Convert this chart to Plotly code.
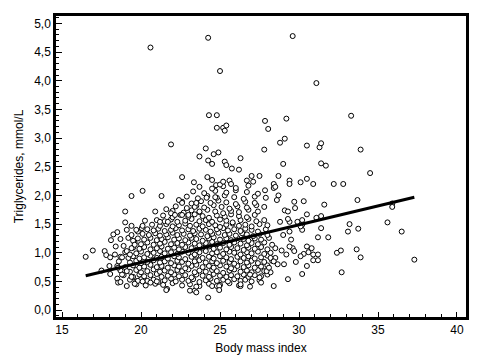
import plotly.graph_objects as go

# ---- data ----
x_ticks = [15, 20, 25, 30, 35, 40]
y_ticks = [0.0, 0.5, 1.0, 1.5, 2.0, 2.5, 3.0, 3.5, 4.0, 4.5, 5.0]
y_tick_labels = ["0,0", "0,5", "1,0", "1,5", "2,0", "2,5", "3,0", "3,5", "4,0", "4,5", "5,0"]

# regression line end points (BMI, TG)
fit_bmi = [16.5, 37.3]
fit_tg = [0.60, 1.97]

# dense core, row by row (BMI, TG)
row_045 = [(19.7,0.45),(20.3,0.43),(20.9,0.46),(21.4,0.44),(22.0,0.47),(22.6,0.43),(23.1,0.45),
           (23.7,0.42),(24.3,0.46),(25.0,0.44),(25.6,0.47),(26.2,0.43)]
row_052 = [(19.3,0.53),(19.7,0.50),(20.0,0.54),(20.4,0.51),(20.8,0.53),(21.1,0.49),(21.5,0.52),
           (21.9,0.55),(22.2,0.50),(22.6,0.53),(23.0,0.51),(23.3,0.54),(23.7,0.49),(24.1,0.52),
           (24.4,0.55),(24.8,0.51),(25.2,0.53),(25.5,0.50),(25.9,0.54),(26.3,0.51),(26.6,0.53),
           (27.0,0.50),(27.5,0.52)]
row_060 = [(18.9,0.61),(19.5,0.58),(19.9,0.62),(20.2,0.59),(20.6,0.61),(21.0,0.63),(21.3,0.58),
           (21.7,0.60),(22.1,0.62),(22.4,0.59),(22.8,0.61),(23.2,0.57),(23.5,0.62),(23.9,0.60),
           (24.3,0.58),(24.6,0.63),(25.0,0.60),(25.4,0.58),(25.7,0.61),(26.1,0.59),(26.5,0.62),
           (26.8,0.58),(27.2,0.61),(27.6,0.59),(28.0,0.62)]
row_068 = [(18.7,0.69),(19.3,0.67),(19.7,0.70),(20.0,0.66),(20.4,0.68),(20.8,0.71),(21.2,0.67),
           (21.5,0.69),(21.9,0.66),(22.3,0.70),(22.6,0.68),(23.0,0.71),(23.4,0.66),(23.7,0.69),
           (24.1,0.67),(24.5,0.70),(24.8,0.68),(25.2,0.65),(25.6,0.69),(25.9,0.71),(26.3,0.67),
           (26.7,0.69),(27.0,0.66),(27.4,0.70),(27.8,0.68),(28.2,0.66)]
row_076 = [(18.5,0.77),(19.0,0.75),(19.5,0.78),(19.9,0.74),(20.2,0.76),(20.6,0.79),(21.0,0.75),
           (21.3,0.77),(21.7,0.74),(22.1,0.78),(22.4,0.76),(22.8,0.73),(23.2,0.77),(23.5,0.79),
           (23.9,0.75),(24.3,0.77),(24.6,0.74),(25.0,0.78),(25.4,0.76),(25.7,0.73),(26.1,0.77),
           (26.5,0.75),(26.8,0.78),(27.2,0.74),(27.6,0.76),(28.0,0.78)]
row_084 = [(18.6,0.85),(19.3,0.83),(19.7,0.86),(20.0,0.82),(20.4,0.84),(20.8,0.87),(21.2,0.83),
           (21.5,0.85),(21.9,0.82),(22.3,0.86),(22.6,0.84),(23.0,0.81),(23.4,0.85),(23.7,0.87),
           (24.1,0.83),(24.5,0.85),(24.8,0.82),(25.2,0.86),(25.6,0.84),(25.9,0.81),(26.3,0.85),
           (26.7,0.83),(27.0,0.86),(27.4,0.82),(27.8,0.84),(28.3,0.86)]
row_092 = [(18.7,0.93),(19.2,0.91),(19.5,0.94),(19.9,0.90),(20.2,0.92),(20.6,0.95),(21.0,0.91),
           (21.3,0.93),(21.7,0.90),(22.1,0.94),(22.4,0.92),(22.8,0.89),(23.2,0.93),(23.5,0.95),
           (23.9,0.91),(24.3,0.93),(24.6,0.90),(25.0,0.94),(25.4,0.92),(25.7,0.89),(26.1,0.93),
           (26.5,0.91),(26.8,0.94),(27.2,0.90),(27.6,0.92),(28.0,0.95),(28.5,0.91)]
row_100 = [(19.0,1.01),(19.7,0.99),(20.0,1.02),(20.4,0.98),(20.8,1.00),(21.2,1.03),(21.5,0.99),
           (21.9,1.01),(22.3,0.98),(22.6,1.02),(23.0,1.00),(23.4,0.97),(23.7,1.01),(24.1,1.03),
           (24.5,0.99),(24.8,1.01),(25.2,0.98),(25.6,1.02),(25.9,1.00),(26.3,0.97),(26.7,1.01),
           (27.0,0.99),(27.4,1.02),(27.8,0.98),(28.2,1.00)]
row_108 = [(19.5,1.09),(19.9,1.07),(20.2,1.10),(20.6,1.06),(21.0,1.08),(21.3,1.11),(21.7,1.07),
           (22.1,1.09),(22.4,1.06),(22.8,1.10),(23.2,1.08),(23.5,1.05),(23.9,1.09),(24.3,1.11),
           (24.6,1.07),(25.0,1.09),(25.4,1.06),(25.7,1.10),(26.1,1.08),(26.5,1.05),(26.8,1.09),
           (27.2,1.07),(27.6,1.10),(28.0,1.06),(28.5,1.08)]
row_116 = [(19.6,1.17),(20.0,1.15),(20.4,1.18),(20.8,1.14),(21.2,1.16),(21.5,1.19),(21.9,1.15),
           (22.3,1.17),(22.6,1.14),(23.0,1.18),(23.4,1.16),(23.7,1.13),(24.1,1.17),(24.5,1.19),
           (24.8,1.15),(25.2,1.17),(25.6,1.14),(25.9,1.18),(26.3,1.16),(26.7,1.13),(27.0,1.17),
           (27.4,1.15),(27.8,1.18),(28.3,1.14)]
row_124 = [(19.8,1.25),(20.2,1.23),(20.6,1.26),(21.0,1.22),(21.3,1.24),(21.7,1.27),(22.1,1.23),
           (22.4,1.25),(22.8,1.22),(23.2,1.26),(23.5,1.24),(23.9,1.21),(24.3,1.25),(24.6,1.27),
           (25.0,1.23),(25.4,1.25),(25.7,1.22),(26.1,1.26),(26.5,1.24),(26.8,1.21),(27.2,1.25),
           (27.6,1.23),(28.1,1.26)]
row_132 = [(20.1,1.33),(20.5,1.31),(20.9,1.34),(21.2,1.30),(21.6,1.32),(22.0,1.35),(22.3,1.31),
           (22.7,1.33),(23.1,1.30),(23.4,1.34),(23.8,1.32),(24.2,1.29),(24.5,1.33),(24.9,1.35),
           (25.3,1.31),(25.6,1.33),(26.0,1.30),(26.4,1.34),(26.7,1.32),(27.1,1.29),(27.5,1.33),
           (28.0,1.31)]
row_140 = [(20.4,1.41),(20.8,1.39),(21.1,1.42),(21.5,1.38),(21.9,1.40),(22.2,1.43),(22.6,1.39),
           (23.0,1.41),(23.3,1.38),(23.7,1.42),(24.1,1.40),(24.4,1.37),(24.8,1.41),(25.2,1.43),
           (25.5,1.39),(25.9,1.41),(26.3,1.38),(26.6,1.42),(27.0,1.40),(27.4,1.37),(27.9,1.41)]
row_148 = [(20.7,1.49),(21.2,1.47),(21.6,1.50),(22.0,1.46),(22.4,1.48),(22.8,1.51),(23.1,1.47),
           (23.5,1.49),(23.9,1.46),(24.3,1.50),(24.7,1.48),(25.0,1.45),(25.4,1.49),(25.8,1.51),
           (26.2,1.47),(26.6,1.49),(27.0,1.46),(27.5,1.50),(28.0,1.48)]
row_156 = [(21.0,1.57),(21.5,1.55),(21.9,1.58),(22.3,1.54),(22.8,1.56),(23.2,1.59),(23.7,1.55),
           (24.1,1.57),(24.5,1.54),(25.0,1.58),(25.4,1.56),(25.8,1.53),(26.3,1.57),(26.8,1.59),
           (27.3,1.55),(27.8,1.57)]
row_164 = [(21.4,1.65),(22.0,1.62),(22.5,1.66),(23.0,1.63),(23.4,1.67),(23.9,1.64),(24.3,1.61),
           (24.8,1.65),(25.3,1.63),(25.7,1.67),(26.2,1.64),(26.7,1.62),(27.2,1.66)]
row_172 = [(22.0,1.73),(22.7,1.70),(23.2,1.74),(23.7,1.71),(24.2,1.75),(24.7,1.72),(25.2,1.69),
           (25.7,1.73),(26.2,1.71),(26.8,1.75),(27.4,1.72)]
row_180 = [(22.2,1.81),(22.9,1.78),(23.5,1.82),(24.0,1.79),(24.6,1.83),(25.1,1.80),(25.6,1.77),
           (26.1,1.81),(26.7,1.79),(27.3,1.83),(27.8,1.80)]
row_188 = [(22.6,1.89),(23.2,1.86),(23.8,1.90),(24.4,1.87),(24.9,1.91),(25.4,1.88),(26.0,1.85),
           (26.6,1.89),(27.2,1.87)]
row_197 = [(22.9,1.98),(23.6,1.95),(24.2,1.99),(24.8,1.96),(25.3,2.00),(25.9,1.97),(26.5,1.94),
           (27.2,1.98),(27.9,1.96)]
row_206 = [(23.3,2.07),(24.0,2.04),(24.7,2.08),(25.4,2.05),(26.0,2.09),(26.7,2.06),(27.4,2.03)]
row_214 = [(23.7,2.15),(24.5,2.12),(25.2,2.16),(26.0,2.13),(26.8,2.17)]

# high outliers (BMI, TG)
upper_points = [
    (20.6, 4.58), (24.25, 4.75), (29.6, 4.78), (25.0, 4.17), (31.1, 3.96), (33.3, 3.39),
    (24.3, 3.40), (24.8, 3.40), (24.8, 3.18), (25.2, 3.18), (25.4, 3.22), (25.3, 3.13),
    (27.85, 3.30), (28.05, 3.16), (29.2, 3.34), (28.8, 2.92), (29.1, 2.99), (30.5, 2.87),
    (31.3, 2.84), (31.4, 2.91), (33.9, 2.80), (21.9, 2.89), (24.1, 2.82), (24.9, 2.75),
    (27.8, 2.80), (24.6, 2.72), (23.7, 2.68), (24.25, 2.61), (24.5, 2.55), (26.3, 2.65),
    (25.3, 2.59), (25.4, 2.53), (25.75, 2.47), (26.2, 2.45), (29.0, 2.55), (31.4, 2.56),
    (31.7, 2.52), (34.5, 2.39),
]

# scattered points around the dense core (BMI, TG)
middle_points = [
    (22.6, 2.32), (23.35, 2.23), (24.2, 2.32), (24.5, 2.27), (24.75, 2.18), (25.0, 2.19),
    (25.2, 2.24), (25.6, 2.26), (25.7, 2.20), (26.7, 2.26), (27.0, 2.34), (27.1, 2.24),
    (27.5, 2.34), (28.7, 2.34), (28.4, 2.20), (28.4, 2.13), (29.4, 2.26), (29.4, 2.20),
    (30.1, 2.23), (30.5, 2.29), (30.9, 2.20), (32.2, 2.20), (32.8, 2.20),
    (19.4, 1.99), (20.1, 2.08), (21.3, 1.99), (22.4, 1.92), (22.6, 1.87), (23.5, 1.87),
    (27.85, 2.09), (28.7, 2.00), (28.6, 1.92), (28.5, 2.15),
    (30.3, 1.90), (29.7, 1.89), (31.6, 1.84), (33.7, 1.92), (35.9, 1.86), (35.9, 1.80),
    (29.1, 1.74), (29.3, 1.72), (29.75, 1.78), (30.5, 1.67), (30.2, 1.57), (31.1, 1.61),
    (31.4, 1.64), (28.8, 1.54), (29.4, 1.54), (29.3, 1.59), (29.9, 1.54),
    (30.2, 1.49), (30.2, 1.40), (31.4, 1.43), (30.1, 1.46), (29.4, 1.37), (29.0, 1.31),
    (29.5, 1.23), (33.2, 1.50), (33.1, 1.37), (33.75, 1.42), (35.6, 1.53), (36.5, 1.37),
    (31.2, 1.27), (31.85, 1.27), (29.6, 1.08), (29.7, 1.03), (30.5, 1.11), (30.8, 1.08),
    (30.3, 0.98), (30.6, 1.01), (30.9, 0.97), (31.2, 0.97), (30.9, 0.87), (31.2, 0.87),
    (30.1, 0.94), (29.8, 0.84), (32.4, 1.00), (32.65, 1.04), (33.65, 1.06), (33.9, 0.92),
    (30.5, 0.77), (30.2, 0.63), (32.7, 0.66), (37.3, 0.88),
    (29.05, 0.80), (29.3, 0.54), (28.4, 0.42), (27.6, 0.48), (26.9, 0.41), (26.3, 0.42),
    (24.95, 0.42), (24.95, 0.35), (28.2, 0.91), (28.4, 0.85), (28.9, 1.04), (29.2, 0.97),
    (29.4, 1.11), (28.65, 0.80), (27.95, 0.68), (28.1, 0.74), (26.9, 0.62), (27.5, 0.57),
    (26.3, 0.45),
]

# left and lower edge (BMI, TG)
left_points = [
    (16.5, 0.93), (16.95, 1.04), (17.7, 1.03), (17.8, 0.96), (18.05, 0.92), (18.35, 0.97),
    (17.5, 0.69), (18.0, 0.77), (18.05, 0.63), (18.5, 0.55), (18.55, 0.48), (19.1, 0.42),
    (18.7, 0.49), (18.1, 1.22), (18.5, 1.36), (19.0, 1.53), (19.0, 1.72), (20.25, 1.56),
    (19.8, 1.37), (20.05, 1.43), (18.7, 1.24), (19.2, 1.26), (19.5, 1.21), (19.6, 1.14),
    (19.4, 1.31), (19.7, 1.40), (18.4, 1.11), (18.9, 1.12), (19.1, 1.03), (19.4, 1.08),
    (18.8, 0.92), (19.3, 0.97), (18.55, 0.74), (18.8, 0.62), (19.1, 0.68), (19.4, 0.58),
    (19.8, 0.51), (19.6, 0.46), (20.1, 0.50), (20.6, 0.48), (21.0, 0.50), (21.65, 0.37),
    (21.6, 0.35), (23.1, 0.34), (23.4, 0.34), (23.5, 0.41), (23.5, 0.31), (24.25, 0.22),
    (24.5, 0.42), (24.8, 0.42), (19.1, 1.40), (19.4, 1.47), (20.1, 1.47), (18.25, 1.32),
    (21.2, 1.54), (21.7, 1.54), (20.9, 1.72), (21.6, 1.76), (21.9, 1.69), (22.15, 1.66),
    (22.6, 1.66), (23.0, 1.66), (23.4, 1.80), (23.7, 1.72), (24.15, 1.96), (24.7, 1.97),
]

core_rows = [row_045, row_052, row_060, row_068, row_076, row_084, row_092, row_100,
             row_108, row_116, row_124, row_132, row_140, row_148, row_156, row_164,
             row_172, row_180, row_188, row_197, row_206, row_214]

# ---- build the figure ----
pt_bmi, pt_tg = [], []
for group in core_rows + [left_points, middle_points, upper_points]:
    for b, t in group:
        pt_bmi.append(b)
        pt_tg.append(t)

fig = go.Figure()
fig.add_trace(go.Scatter(
    x=pt_bmi, y=pt_tg, mode="markers",
    marker=dict(symbol="circle", size=5, color="white",
                line=dict(color="black", width=1)),
    hoverinfo="skip",
))
fig.add_trace(go.Scatter(
    x=fit_bmi, y=fit_tg, mode="lines",
    line=dict(color="black", width=3),
    hoverinfo="skip",
))

axis_font = dict(family="Liberation Sans, Arial, sans-serif", size=12, color="black")

# the page body has an 8 px default margin, so the figure is 8 px smaller
fig.update_layout(
    width=475, height=354,
    margin=dict(l=48, r=17, t=5, b=45),
    paper_bgcolor="white", plot_bgcolor="white",
    showlegend=False,
    font=axis_font,
)
fig.update_xaxes(
    range=[14.62, 40.57],
    tickvals=x_ticks, ticktext=[str(v) for v in x_ticks],
    ticks="inside", ticklen=5, tickwidth=1, tickcolor="black",
    minor=dict(ticks="inside", ticklen=3, tickwidth=1, tickcolor="black",
               dtick=1, tick0=15, showgrid=False),
    showline=True, linewidth=2.5, linecolor="black", mirror=True,
    showgrid=False, zeroline=False,
    tickfont=axis_font,
    title=dict(text="Body mass index", font=axis_font, standoff=8),
)
fig.update_yaxes(
    range=[-0.12, 5.13],
    tickvals=y_ticks, ticktext=y_tick_labels,
    ticks="inside", ticklen=6, tickwidth=1, tickcolor="black",
    minor=dict(ticks="inside", ticklen=3, tickwidth=1, tickcolor="black",
               dtick=0.1, tick0=0, showgrid=False),
    showline=True, linewidth=2.5, linecolor="black", mirror=True,
    showgrid=False, zeroline=False,
    tickfont=axis_font,
    title=dict(text="Triglycerides, mmol/L", font=axis_font, standoff=8),
)

fig.write_html("out.html")
